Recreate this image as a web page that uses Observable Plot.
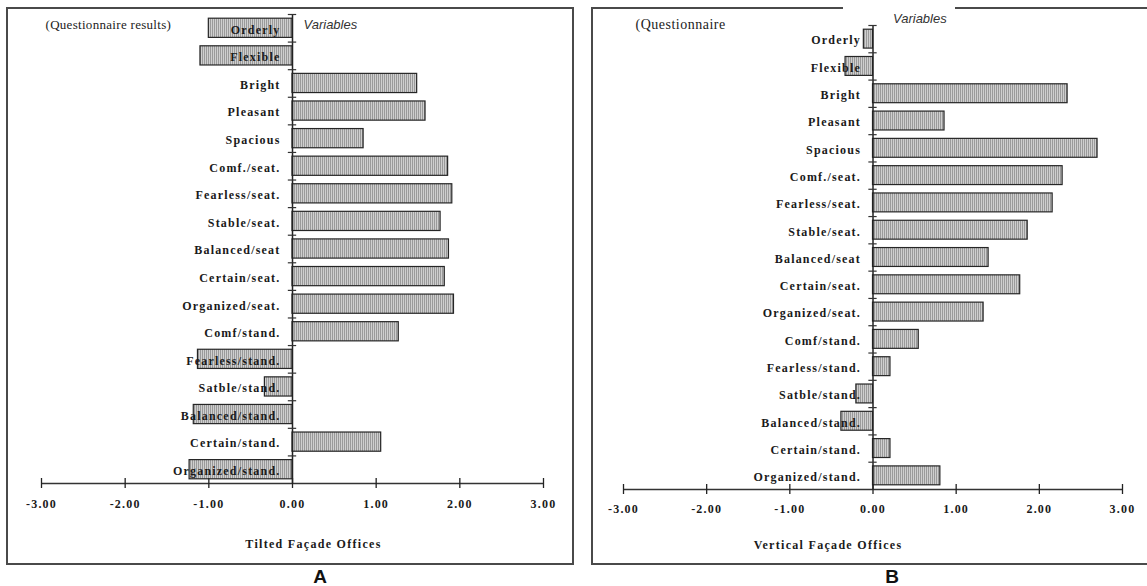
<!DOCTYPE html>
<html>
<head>
<meta charset="utf-8">
<script src="https://cdn.jsdelivr.net/npm/d3@7"></script>
<script src="https://cdn.jsdelivr.net/npm/@observablehq/plot@0.6"></script>
<style>
  html, body { margin: 0; padding: 0; background: #fff; }
  body { width: 1147px; height: 586px; position: relative; overflow: hidden; }
  .panel { position: absolute; top: 0; }
  .border { position: absolute; box-sizing: border-box; border: 2px solid #4a4a4a; z-index: 2; pointer-events: none; }
  .hline { position: absolute; height: 2px; background: #4a4a4a; z-index: 2; }
  .tag { position: absolute; font-family: "Liberation Sans", Arial, sans-serif; font-weight: bold; font-size: 19px; line-height: 17px; color: #111; transform: translateX(-50%); }
</style>
</head>
<body>
<svg width="0" height="0" style="position:absolute">
  <defs>
    <pattern id="hatch" width="2" height="4" patternUnits="userSpaceOnUse">
      <rect width="2" height="4" fill="#cfcfcf"></rect>
      <rect width="1" height="4" fill="#9a9a9a"></rect>
    </pattern>
  </defs>
</svg>
<div id="panelA" class="panel" style="left:0px"></div>
<div id="panelB" class="panel" style="left:580px"></div>

<div class="border" style="left:6px; top:7px; width:568px; height:558px;"></div>
<div class="border" style="left:591px; top:7px; width:600px; height:558px; border-top:none;"></div>
<div class="hline" style="left:591px; top:7px; width:252px;"></div>
<div class="hline" style="left:955px; top:7px; width:192px;"></div>

<div class="tag" style="left:320px; top:568px;">A</div>
<div class="tag" style="left:892px; top:568px;">B</div>

<script>
// ---- data ----
const categories = ["Orderly", "Flexible", "Bright", "Pleasant", "Spacious", "Comf./seat.", "Fearless/seat.", "Stable/seat.", "Balanced/seat", "Certain/seat.", "Organized/seat.", "Comf/stand.", "Fearless/stand.", "Satble/stand.", "Balanced/stand.", "Certain/stand.", "Organized/stand."];
const tiltedValues = [-1.00, -1.10, 1.49, 1.59, 0.85, 1.86, 1.91, 1.77, 1.87, 1.82, 1.93, 1.27, -1.13, -0.33, -1.18, 1.06, -1.23];
const verticalValues = [-0.11, -0.33, 2.34, 0.86, 2.70, 2.28, 2.16, 1.86, 1.39, 1.77, 1.33, 0.55, 0.21, -0.20, -0.38, 0.21, 0.81];
const xTicks = [-3, -2, -1, 0, 1, 2, 3];
const titleA = "Tilted Façade Offices";
const titleB = "Vertical Façade Offices";
const noteA = "(Questionnaire results)";
const noteB = "(Questionnaire";
const varLabel = "Variables";

const serif = "'Liberation Serif', 'Times New Roman', serif";
const sans = "'Liberation Sans', Arial, sans-serif";
const fmt = d => d.toFixed(2);

function panel(values, o) {
  const N = categories.length;
  const rows = categories.map((c, i) => ({c, i, v: values[i]}));
  const svg = Plot.plot({
    width: o.width, height: 566,
    marginLeft: o.ml, marginRight: o.mr, marginTop: o.mt, marginBottom: 566 - o.axisY,
    x: {domain: [-3, 3], axis: null},
    y: {domain: [0, N], reverse: true, axis: null},
    style: {background: "transparent", fontFamily: serif, overflow: "visible"},
    marks: [
      Plot.rect(rows, {x1: 0, x2: "v", y1: "i", y2: d => d.i + 1, insetTop: 4.2, insetBottom: 4.2,
        fill: "url(#hatch)", stroke: "#262626", strokeWidth: 1.2}),
      Plot.ruleX([0], {y1: 0, y2: N, stroke: "#222", strokeWidth: 1.5}),
      Plot.ruleY(rows, {y: "i", x1: -0.05, x2: 0.05, stroke: "#333", strokeWidth: 1.2}),
      Plot.ruleY([N], {x1: d3.min(xTicks), x2: d3.max(xTicks), stroke: "#333", strokeWidth: 1.5}),
      Plot.ruleX(xTicks, {x: d => d, y1: N, y2: N, insetTop: -5, insetBottom: -5, stroke: "#222", strokeWidth: 1.3}),
      Plot.text(xTicks, {x: d => d, y: () => N, dy: o.tickDy, text: fmt,
        fontWeight: "bold", fontSize: 12, fill: "#1a1a1a"}),
      Plot.text(rows, {x: 0, y: d => d.i + 0.5, text: "c", textAnchor: "end", dx: -12, dy: 1.5,
        fontWeight: "bold", fontSize: 12, fill: "#1a1a1a"}),
      Plot.text([o.title], {frameAnchor: "bottom", lineAnchor: "middle", dx: o.titleDx, dy: o.titleDy, text: d => d,
        fontWeight: "bold", fontSize: 12, fill: "#1a1a1a"}),
      Plot.text([o.note], {frameAnchor: "top-left", lineAnchor: "middle", dx: o.noteDx, dy: o.noteDy, text: d => d,
        textAnchor: "start", fontSize: o.noteSize, fill: "#222"}),
      Plot.text([varLabel], {x: () => 0, frameAnchor: "top", lineAnchor: "middle", dx: o.varDx, dy: o.varDy, text: d => d,
        textAnchor: "start", fontSize: 13, fontStyle: "italic", fontFamily: sans, fill: "#333"})
    ]
  });
  const spaced = new Set([...categories, ...xTicks.map(fmt)]);
  d3.select(svg).selectAll("text").each(function() {
    const t = this.textContent;
    if (spaced.has(t)) this.setAttribute("letter-spacing", "1.2px");
    else if (t === o.title) this.setAttribute("letter-spacing", "1.3px");
    else if (t === o.note) this.setAttribute("letter-spacing", o.noteSpacing);
  });
  return svg;
}

document.getElementById("panelA").appendChild(panel(tiltedValues, {
  width: 580, ml: 41, mr: 37, mt: 14, axisY: 483, tickDy: 21,
  title: titleA, titleDx: 21, titleDy: 61,
  note: noteA, noteDx: 4, noteDy: 10, noteSize: 13, noteSpacing: "0.3px",
  varDx: 11, varDy: 10
}));
document.getElementById("panelB").appendChild(panel(verticalValues, {
  width: 567, ml: 43, mr: 25, mt: 25, axisY: 489, tickDy: 20,
  title: titleB, titleDx: -45, titleDy: 56,
  note: noteB, noteDx: 12, noteDy: -1, noteSize: 14, noteSpacing: "0.5px",
  varDx: 20, varDy: -7
}));
</script>
</body>
</html>
